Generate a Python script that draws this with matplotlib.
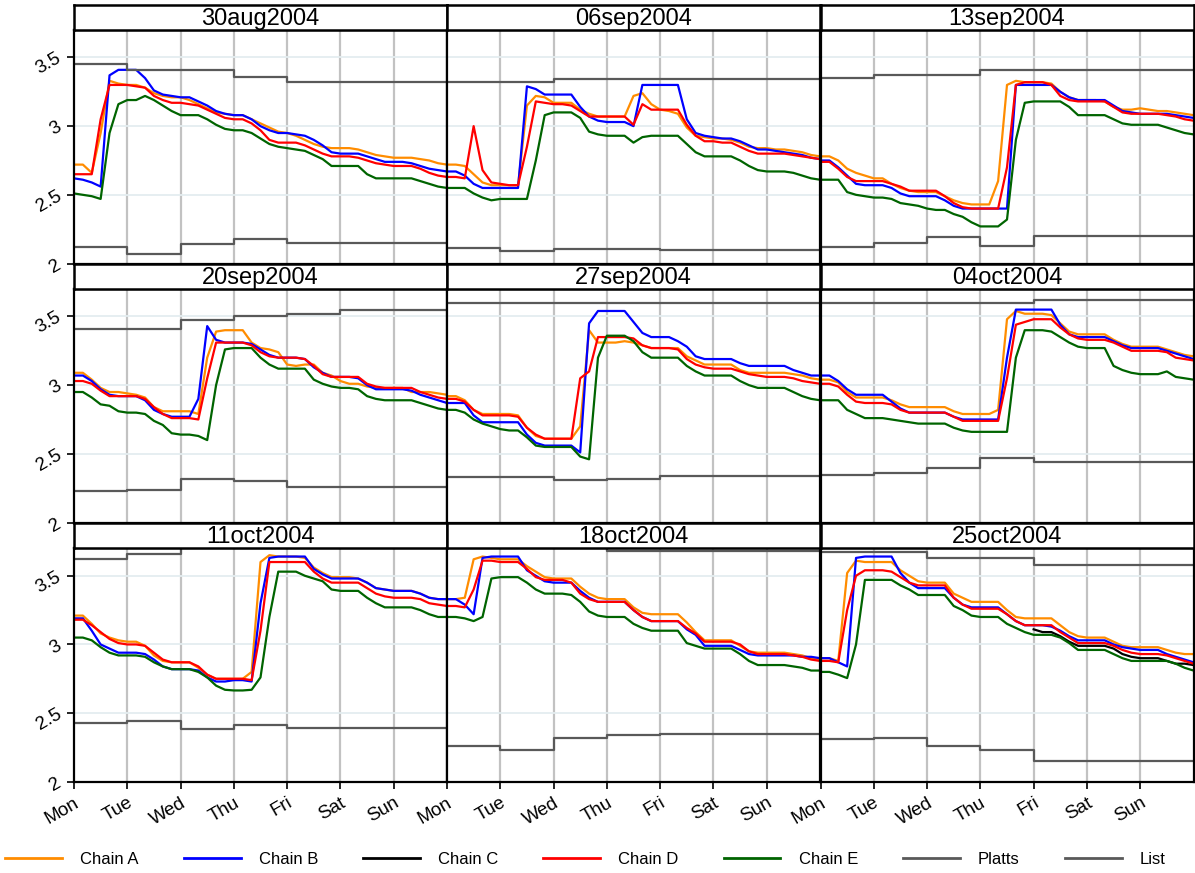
import matplotlib
matplotlib.use("Agg")
import matplotlib.pyplot as plt
from matplotlib.lines import Line2D

plt.rcParams['font.family'] = ['Liberation Sans', 'DejaVu Sans']

# weeks (one panel each), sampled every 4 hours from Monday 00:00
WEEKS = ['30aug2004', '06sep2004', '13sep2004',
         '20sep2004', '27sep2004', '04oct2004',
         '11oct2004', '18oct2004', '25oct2004']
DAYS = ['Mon', 'Tue', 'Wed', 'Thu', 'Fri', 'Sat', 'Sun']
HOURS = list(range(0, 169, 4))

CHAIN_A = [
    [2.72, 2.72, 2.66, 2.95, 3.33, 3.31, 3.30, 3.30, 3.28, 3.24, 3.22, 3.21, 3.21, 3.19, 3.16, 3.13, 3.10, 3.09,
     3.08, 3.08, 3.05, 3.02, 2.99, 2.96, 2.95, 2.93, 2.90, 2.87, 2.85, 2.84, 2.84, 2.84, 2.83, 2.81, 2.79, 2.78,
     2.77, 2.77, 2.77, 2.76, 2.75, 2.73, 2.72],
    [2.72, 2.72, 2.71, 2.65, 2.59, 2.57, 2.57, 2.57, 2.57, 3.15, 3.22, 3.21, 3.17, 3.17, 3.17, 3.12, 3.09, 3.07,
     3.07, 3.07, 3.07, 3.22, 3.24, 3.16, 3.12, 3.11, 3.09, 2.99, 2.93, 2.92, 2.91, 2.91, 2.90, 2.88, 2.85, 2.84,
     2.84, 2.83, 2.83, 2.82, 2.81, 2.79, 2.78],
    [2.78, 2.78, 2.75, 2.69, 2.66, 2.64, 2.62, 2.62, 2.58, 2.55, 2.53, 2.52, 2.52, 2.52, 2.49, 2.46, 2.44, 2.43,
     2.43, 2.43, 2.60, 3.30, 3.33, 3.32, 3.32, 3.32, 3.31, 3.25, 3.21, 3.19, 3.19, 3.19, 3.18, 3.14, 3.12, 3.12,
     3.13, 3.12, 3.11, 3.11, 3.10, 3.09, 3.08],
    [3.09, 3.09, 3.04, 2.98, 2.95, 2.95, 2.94, 2.93, 2.91, 2.84, 2.81, 2.81, 2.81, 2.81, 2.79, 3.20, 3.39, 3.40,
     3.40, 3.40, 3.31, 3.27, 3.26, 3.24, 3.15, 3.14, 3.15, 3.15, 3.09, 3.07, 3.03, 3.01, 3.01, 2.99, 2.98, 2.98,
     2.98, 2.98, 2.95, 2.95, 2.95, 2.94, 2.93],
    [2.92, 2.92, 2.89, 2.82, 2.79, 2.79, 2.79, 2.79, 2.78, 2.69, 2.63, 2.61, 2.61, 2.61, 2.61, 2.70, 3.40, 3.31,
     3.31, 3.31, 3.32, 3.31, 3.29, 3.27, 3.27, 3.27, 3.27, 3.21, 3.18, 3.15, 3.15, 3.15, 3.15, 3.11, 3.09, 3.09,
     3.09, 3.09, 3.09, 3.08, 3.07, 3.05, 3.04],
    [3.04, 3.04, 3.02, 2.95, 2.91, 2.91, 2.91, 2.91, 2.89, 2.86, 2.84, 2.84, 2.84, 2.84, 2.84, 2.81, 2.79, 2.79,
     2.79, 2.79, 2.82, 3.48, 3.54, 3.52, 3.52, 3.52, 3.51, 3.45, 3.39, 3.37, 3.37, 3.37, 3.37, 3.33, 3.30, 3.28,
     3.28, 3.28, 3.28, 3.26, 3.24, 3.22, 3.21],
    [3.21, 3.21, 3.15, 3.08, 3.05, 3.03, 3.02, 3.02, 2.99, 2.92, 2.88, 2.87, 2.87, 2.87, 2.83, 2.78, 2.75, 2.75,
     2.75, 2.75, 2.80, 3.60, 3.65, 3.64, 3.64, 3.64, 3.63, 3.56, 3.52, 3.49, 3.49, 3.49, 3.48, 3.45, 3.41, 3.40,
     3.39, 3.39, 3.39, 3.37, 3.34, 3.33, 3.33],
    [3.33, 3.33, 3.34, 3.62, 3.64, 3.63, 3.62, 3.62, 3.62, 3.57, 3.53, 3.49, 3.48, 3.48, 3.48, 3.42, 3.37, 3.34,
     3.33, 3.33, 3.33, 3.27, 3.23, 3.22, 3.22, 3.22, 3.22, 3.16, 3.09, 3.03, 3.03, 3.03, 3.03, 2.99, 2.95, 2.94,
     2.94, 2.94, 2.94, 2.93, 2.92, 2.90, 2.89],
    [2.90, 2.90, 2.88, 3.52, 3.61, 3.60, 3.60, 3.60, 3.60, 3.54, 3.50, 3.46, 3.45, 3.45, 3.45, 3.37, 3.34, 3.31,
     3.31, 3.31, 3.31, 3.25, 3.20, 3.19, 3.19, 3.19, 3.19, 3.14, 3.09, 3.06, 3.05, 3.05, 3.05, 3.02, 2.99, 2.98,
     2.98, 2.98, 2.98, 2.96, 2.94, 2.93, 2.93],
]

CHAIN_B = [
    [2.62, 2.61, 2.59, 2.56, 3.37, 3.41, 3.41, 3.41, 3.35, 3.26, 3.23, 3.22, 3.21, 3.21, 3.18, 3.15, 3.11, 3.09,
     3.08, 3.08, 3.05, 3.00, 2.97, 2.95, 2.95, 2.94, 2.93, 2.90, 2.86, 2.81, 2.80, 2.80, 2.80, 2.78, 2.76, 2.74,
     2.74, 2.74, 2.73, 2.71, 2.69, 2.68, 2.67],
    [2.67, 2.67, 2.64, 2.58, 2.55, 2.55, 2.55, 2.55, 2.55, 3.29, 3.27, 3.23, 3.23, 3.23, 3.23, 3.14, 3.07, 3.04,
     3.03, 3.03, 3.03, 3.00, 3.30, 3.30, 3.30, 3.30, 3.30, 3.05, 2.95, 2.93, 2.92, 2.91, 2.91, 2.89, 2.86, 2.83,
     2.83, 2.82, 2.81, 2.80, 2.79, 2.77, 2.76],
    [2.75, 2.75, 2.70, 2.64, 2.58, 2.57, 2.57, 2.57, 2.55, 2.51, 2.49, 2.49, 2.49, 2.49, 2.46, 2.42, 2.40, 2.40,
     2.40, 2.40, 2.40, 2.40, 3.30, 3.30, 3.30, 3.30, 3.30, 3.25, 3.21, 3.19, 3.19, 3.19, 3.19, 3.15, 3.11, 3.10,
     3.09, 3.09, 3.09, 3.09, 3.08, 3.07, 3.06],
    [3.07, 3.07, 3.03, 2.97, 2.93, 2.92, 2.92, 2.92, 2.89, 2.82, 2.79, 2.77, 2.77, 2.77, 2.90, 3.43, 3.33, 3.31,
     3.31, 3.31, 3.30, 3.26, 3.22, 3.20, 3.20, 3.20, 3.19, 3.13, 3.09, 3.06, 3.06, 3.06, 3.05, 3.00, 2.97, 2.97,
     2.97, 2.97, 2.96, 2.93, 2.91, 2.89, 2.87],
    [2.87, 2.87, 2.87, 2.78, 2.73, 2.73, 2.73, 2.73, 2.73, 2.64, 2.58, 2.56, 2.56, 2.56, 2.56, 2.51, 3.45, 3.54,
     3.54, 3.54, 3.54, 3.46, 3.38, 3.35, 3.35, 3.35, 3.32, 3.28, 3.21, 3.19, 3.19, 3.19, 3.19, 3.16, 3.14, 3.14,
     3.14, 3.14, 3.14, 3.11, 3.09, 3.07, 3.07],
    [3.07, 3.07, 3.03, 2.97, 2.93, 2.93, 2.93, 2.93, 2.88, 2.83, 2.80, 2.80, 2.80, 2.80, 2.80, 2.77, 2.75, 2.75,
     2.75, 2.75, 2.75, 3.20, 3.55, 3.55, 3.55, 3.55, 3.55, 3.44, 3.37, 3.35, 3.35, 3.35, 3.35, 3.32, 3.29, 3.27,
     3.27, 3.27, 3.27, 3.25, 3.23, 3.21, 3.19],
    [3.19, 3.19, 3.10, 3.00, 2.97, 2.94, 2.94, 2.94, 2.93, 2.89, 2.84, 2.82, 2.82, 2.82, 2.81, 2.76, 2.73, 2.73,
     2.74, 2.74, 2.73, 3.30, 3.63, 3.64, 3.64, 3.64, 3.64, 3.55, 3.51, 3.48, 3.48, 3.48, 3.48, 3.45, 3.41, 3.40,
     3.39, 3.39, 3.39, 3.37, 3.34, 3.33, 3.33],
    [3.33, 3.33, 3.29, 3.22, 3.63, 3.64, 3.64, 3.64, 3.64, 3.54, 3.50, 3.46, 3.45, 3.45, 3.45, 3.39, 3.34, 3.31,
     3.31, 3.31, 3.31, 3.25, 3.20, 3.17, 3.17, 3.17, 3.17, 3.11, 3.07, 2.99, 2.99, 2.99, 2.99, 2.96, 2.93, 2.92,
     2.92, 2.92, 2.92, 2.92, 2.91, 2.91, 2.90],
    [2.90, 2.90, 2.87, 2.84, 3.63, 3.64, 3.64, 3.64, 3.64, 3.52, 3.45, 3.41, 3.41, 3.41, 3.41, 3.34, 3.29, 3.27,
     3.27, 3.27, 3.27, 3.22, 3.17, 3.14, 3.14, 3.14, 3.13, 3.10, 3.06, 3.03, 3.03, 3.03, 3.03, 3.00, 2.98, 2.97,
     2.96, 2.96, 2.96, 2.93, 2.91, 2.89, 2.87],
]

# Chain C only reports in the last week, from Friday on
CHAIN_C_WEEK = 8
CHAIN_C_FIRST = 24
CHAIN_C = [3.11, 3.09, 3.09, 3.06, 3.02, 2.99, 2.99, 2.99, 2.99, 2.97, 2.93, 2.91,
           2.90, 2.90, 2.90, 2.88, 2.86, 2.86, 2.85]

CHAIN_D = [
    [2.65, 2.65, 2.65, 3.05, 3.30, 3.30, 3.30, 3.29, 3.28, 3.22, 3.19, 3.17, 3.17, 3.16, 3.15, 3.12, 3.09, 3.06,
     3.05, 3.05, 3.02, 2.97, 2.90, 2.88, 2.88, 2.88, 2.86, 2.83, 2.80, 2.78, 2.78, 2.78, 2.77, 2.75, 2.73, 2.72,
     2.71, 2.71, 2.71, 2.69, 2.66, 2.64, 2.63],
    [2.63, 2.63, 2.62, 3.00, 2.68, 2.59, 2.58, 2.57, 2.57, 2.85, 3.18, 3.17, 3.16, 3.16, 3.15, 3.11, 3.07, 3.07,
     3.07, 3.07, 3.07, 3.01, 3.16, 3.12, 3.12, 3.12, 3.12, 3.01, 2.93, 2.89, 2.89, 2.88, 2.88, 2.85, 2.82, 2.80,
     2.80, 2.80, 2.80, 2.79, 2.78, 2.77, 2.76],
    [2.74, 2.74, 2.69, 2.63, 2.60, 2.60, 2.60, 2.60, 2.58, 2.56, 2.53, 2.53, 2.53, 2.53, 2.49, 2.44, 2.41, 2.40,
     2.40, 2.40, 2.40, 2.70, 3.30, 3.32, 3.32, 3.32, 3.30, 3.22, 3.19, 3.18, 3.18, 3.18, 3.18, 3.14, 3.10, 3.09,
     3.09, 3.09, 3.09, 3.08, 3.07, 3.05, 3.04],
    [3.03, 3.03, 3.01, 2.96, 2.92, 2.92, 2.92, 2.92, 2.90, 2.84, 2.79, 2.76, 2.76, 2.76, 2.75, 3.05, 3.31, 3.31,
     3.31, 3.31, 3.29, 3.24, 3.21, 3.20, 3.20, 3.20, 3.19, 3.14, 3.08, 3.06, 3.06, 3.06, 3.06, 3.01, 2.99, 2.98,
     2.98, 2.98, 2.98, 2.95, 2.93, 2.91, 2.90],
    [2.90, 2.90, 2.88, 2.82, 2.78, 2.78, 2.78, 2.78, 2.77, 2.69, 2.64, 2.61, 2.61, 2.61, 2.61, 3.05, 3.10, 3.35,
     3.35, 3.35, 3.35, 3.34, 3.29, 3.27, 3.27, 3.27, 3.26, 3.19, 3.15, 3.13, 3.12, 3.12, 3.12, 3.10, 3.08, 3.07,
     3.06, 3.06, 3.06, 3.05, 3.03, 3.02, 3.01],
    [3.01, 3.01, 2.99, 2.93, 2.88, 2.87, 2.87, 2.87, 2.86, 2.82, 2.80, 2.80, 2.80, 2.80, 2.80, 2.77, 2.74, 2.74,
     2.74, 2.74, 2.74, 3.05, 3.44, 3.46, 3.48, 3.48, 3.48, 3.42, 3.37, 3.34, 3.33, 3.33, 3.33, 3.31, 3.28, 3.25,
     3.25, 3.25, 3.25, 3.24, 3.20, 3.19, 3.18],
    [3.18, 3.18, 3.14, 3.09, 3.04, 3.01, 3.00, 3.00, 2.99, 2.94, 2.89, 2.87, 2.87, 2.87, 2.84, 2.78, 2.75, 2.75,
     2.75, 2.75, 2.74, 3.10, 3.60, 3.60, 3.60, 3.60, 3.60, 3.53, 3.48, 3.45, 3.45, 3.45, 3.45, 3.41, 3.37, 3.35,
     3.34, 3.34, 3.34, 3.33, 3.30, 3.29, 3.28],
    [3.28, 3.28, 3.27, 3.40, 3.61, 3.61, 3.60, 3.60, 3.60, 3.55, 3.49, 3.47, 3.47, 3.47, 3.45, 3.37, 3.33, 3.31,
     3.31, 3.31, 3.31, 3.25, 3.20, 3.17, 3.17, 3.17, 3.17, 3.12, 3.08, 3.02, 3.02, 3.02, 3.02, 3.00, 2.95, 2.93,
     2.93, 2.93, 2.93, 2.92, 2.91, 2.89, 2.88],
    [2.88, 2.88, 2.87, 3.25, 3.50, 3.54, 3.54, 3.54, 3.53, 3.49, 3.45, 3.43, 3.43, 3.43, 3.43, 3.34, 3.29, 3.26,
     3.26, 3.26, 3.26, 3.22, 3.17, 3.14, 3.14, 3.14, 3.14, 3.09, 3.05, 3.01, 3.01, 3.01, 3.01, 2.99, 2.96, 2.94,
     2.93, 2.93, 2.93, 2.92, 2.90, 2.88, 2.86],
]

CHAIN_E = [
    [2.51, 2.50, 2.49, 2.47, 2.95, 3.16, 3.19, 3.19, 3.22, 3.19, 3.15, 3.11, 3.08, 3.08, 3.08, 3.05, 3.01, 2.98,
     2.97, 2.97, 2.95, 2.91, 2.87, 2.85, 2.84, 2.83, 2.82, 2.79, 2.76, 2.71, 2.71, 2.71, 2.71, 2.65, 2.62, 2.62,
     2.62, 2.62, 2.62, 2.60, 2.58, 2.56, 2.55],
    [2.55, 2.55, 2.55, 2.51, 2.48, 2.46, 2.47, 2.47, 2.47, 2.47, 2.75, 3.08, 3.10, 3.10, 3.10, 3.06, 2.96, 2.94,
     2.93, 2.93, 2.93, 2.88, 2.92, 2.93, 2.93, 2.93, 2.93, 2.87, 2.81, 2.78, 2.78, 2.78, 2.78, 2.75, 2.71, 2.68,
     2.67, 2.67, 2.67, 2.66, 2.64, 2.62, 2.61],
    [2.61, 2.61, 2.61, 2.52, 2.50, 2.49, 2.48, 2.48, 2.47, 2.44, 2.43, 2.42, 2.40, 2.39, 2.39, 2.36, 2.34, 2.30,
     2.27, 2.27, 2.27, 2.32, 2.90, 3.17, 3.18, 3.18, 3.18, 3.18, 3.14, 3.08, 3.08, 3.08, 3.08, 3.05, 3.02, 3.01,
     3.01, 3.01, 3.01, 2.99, 2.97, 2.95, 2.94],
    [2.95, 2.95, 2.91, 2.86, 2.85, 2.81, 2.80, 2.80, 2.79, 2.74, 2.71, 2.65, 2.64, 2.64, 2.63, 2.60, 3.00, 3.26,
     3.27, 3.27, 3.27, 3.20, 3.15, 3.12, 3.12, 3.12, 3.12, 3.04, 3.01, 2.99, 2.98, 2.98, 2.97, 2.92, 2.90, 2.89,
     2.89, 2.89, 2.89, 2.87, 2.85, 2.83, 2.82],
    [2.82, 2.82, 2.80, 2.75, 2.72, 2.70, 2.68, 2.67, 2.67, 2.62, 2.56, 2.55, 2.55, 2.55, 2.55, 2.48, 2.46, 3.20,
     3.36, 3.36, 3.36, 3.32, 3.24, 3.20, 3.20, 3.20, 3.20, 3.14, 3.10, 3.07, 3.07, 3.07, 3.07, 3.03, 3.00, 2.98,
     2.98, 2.98, 2.98, 2.95, 2.92, 2.90, 2.89],
    [2.89, 2.89, 2.89, 2.82, 2.79, 2.76, 2.76, 2.76, 2.75, 2.74, 2.73, 2.72, 2.72, 2.72, 2.72, 2.69, 2.67, 2.66,
     2.66, 2.66, 2.66, 2.66, 3.20, 3.40, 3.40, 3.40, 3.39, 3.35, 3.31, 3.28, 3.27, 3.27, 3.27, 3.14, 3.11, 3.09,
     3.08, 3.08, 3.08, 3.10, 3.06, 3.05, 3.04],
    [3.05, 3.05, 3.03, 2.98, 2.94, 2.92, 2.92, 2.92, 2.91, 2.87, 2.84, 2.82, 2.82, 2.82, 2.80, 2.76, 2.70, 2.67,
     2.665, 2.665, 2.67, 2.76, 3.20, 3.53, 3.53, 3.53, 3.50, 3.48, 3.46, 3.40, 3.39, 3.39, 3.39, 3.34, 3.30, 3.27,
     3.27, 3.27, 3.27, 3.25, 3.22, 3.20, 3.20],
    [3.20, 3.20, 3.19, 3.17, 3.20, 3.48, 3.49, 3.49, 3.49, 3.45, 3.40, 3.37, 3.37, 3.37, 3.36, 3.31, 3.24, 3.21,
     3.20, 3.20, 3.20, 3.15, 3.12, 3.10, 3.10, 3.10, 3.10, 3.01, 2.99, 2.97, 2.97, 2.97, 2.97, 2.93, 2.88, 2.85,
     2.85, 2.85, 2.85, 2.84, 2.83, 2.81, 2.81],
    [2.80, 2.80, 2.78, 2.755, 3.00, 3.47, 3.47, 3.47, 3.47, 3.43, 3.40, 3.36, 3.36, 3.36, 3.36, 3.28, 3.25, 3.21,
     3.20, 3.20, 3.20, 3.15, 3.12, 3.09, 3.07, 3.07, 3.07, 3.05, 3.01, 2.96, 2.96, 2.96, 2.96, 2.93, 2.90, 2.88,
     2.88, 2.88, 2.88, 2.88, 2.86, 2.83, 2.81],
]

# daily reference prices (change at midnight)
PLATTS = [
    [2.12, 2.07, 2.14, 2.18, 2.15, 2.15, 2.15],
    [2.11, 2.09, 2.105, 2.105, 2.095, 2.095, 2.095],
    [2.12, 2.15, 2.19, 2.13, 2.20, 2.20, 2.20],
    [2.23, 2.24, 2.32, 2.30, 2.255, 2.255, 2.255],
    [2.33, 2.33, 2.31, 2.32, 2.335, 2.335, 2.335],
    [2.345, 2.36, 2.40, 2.47, 2.44, 2.44, 2.44],
    [2.43, 2.44, 2.385, 2.415, 2.39, 2.39, 2.39],
    [2.26, 2.23, 2.32, 2.34, 2.35, 2.35, 2.35],
    [2.31, 2.32, 2.26, 2.23, 2.15, 2.15, 2.15],
]
LIST = [
    [3.45, 3.41, 3.41, 3.36, 3.32, 3.32, 3.32],
    [3.32, 3.32, 3.345, 3.345, 3.345, 3.345, 3.345],
    [3.35, 3.37, 3.37, 3.41, 3.41, 3.41, 3.41],
    [3.41, 3.41, 3.475, 3.50, 3.52, 3.55, 3.55],
    [3.60, 3.60, 3.60, 3.60, 3.60, 3.60, 3.60],
    [3.60, 3.60, 3.60, 3.60, 3.62, 3.62, 3.62],
    [3.62, 3.66, 3.75, 3.75, 3.75, 3.75, 3.75],
    [3.74, 3.74, 3.74, 3.68, 3.68, 3.68, 3.68],
    [3.67, 3.67, 3.63, 3.63, 3.575, 3.575, 3.575],
]

COLORS = {'Chain A': '#ff8c00', 'Chain B': '#0000ff', 'Chain C': '#000000',
          'Chain D': '#ff0000', 'Chain E': '#006400', 'Platts': '#595959', 'List': '#595959'}

W, H = 1195, 873
LEFTS = [74, 447, 820.5]
TOPS = [30, 289, 548.3]
PW, PH, SH = 373, 233.5, 25

fig = plt.figure(figsize=(W / 100, H / 100), dpi=100)

t = [h / 24 for h in HOURS]
step_x = list(range(8))

for k, week in enumerate(WEEKS):
    r, c = divmod(k, 3)
    l, top = LEFTS[c], TOPS[r]
    ax = fig.add_axes([l / W, 1 - (top + PH) / H, PW / W, PH / H])

    for d in range(1, 7):
        ax.axvline(d, color='#c2c2c2', lw=1.6, zorder=0)
    for y in (2.5, 3.0, 3.5):
        ax.axhline(y, color='#e4edf0', lw=1.3, zorder=0)

    ax.plot(t, CHAIN_A[k], color=COLORS['Chain A'], lw=1.6)
    ax.plot(t, CHAIN_B[k], color=COLORS['Chain B'], lw=1.6)
    if k == CHAIN_C_WEEK:
        ax.plot(t[CHAIN_C_FIRST:], CHAIN_C, color=COLORS['Chain C'], lw=1.6)
    ax.plot(t, CHAIN_D[k], color=COLORS['Chain D'], lw=1.6)
    ax.plot(t, CHAIN_E[k], color=COLORS['Chain E'], lw=1.6)
    ax.step(step_x, PLATTS[k] + [PLATTS[k][-1]], where='post', color=COLORS['Platts'], lw=1.6)
    ax.step(step_x, LIST[k] + [LIST[k][-1]], where='post', color=COLORS['List'], lw=1.6)

    ax.set_xlim(0, 7)
    ax.set_ylim(2, 3.70)
    for s in ax.spines.values():
        s.set_color('black')
        s.set_linewidth(1.6)

    ax.set_xticks(range(7))
    ax.set_yticks([2, 2.5, 3, 3.5])
    if r == 2:
        ax.set_xticklabels(DAYS, fontsize=13.5, rotation=30, ha='right', va='top',
                           rotation_mode='anchor')
        ax.tick_params(axis='x', length=5, width=1.2, pad=4)
    else:
        ax.tick_params(axis='x', length=0, labelbottom=False)
    if c == 0:
        ax.set_yticklabels(['2', '2.5', '3', '3.5'], fontsize=13.5, rotation=30, ha='right',
                           va='center', rotation_mode='anchor')
        ax.tick_params(axis='y', length=5, width=1.2, pad=5)
    else:
        ax.tick_params(axis='y', length=0, labelleft=False)

    strip = fig.add_axes([l / W, 1 - top / H, PW / W, SH / H])
    strip.set_xticks([])
    strip.set_yticks([])
    for s in strip.spines.values():
        s.set_color('black')
        s.set_linewidth(1.8)
    strip.text(0.5, 0.45, week, ha='center', va='center', fontsize=17, transform=strip.transAxes)

names = ['Chain A', 'Chain B', 'Chain C', 'Chain D', 'Chain E', 'Platts', 'List']
handles = [Line2D([], [], color=COLORS[n], lw=2) for n in names]
fig.legend(handles, names, loc='center', bbox_to_anchor=(0.49, 1 - 859 / H), ncol=7,
           frameon=False, fontsize=12, handlelength=3.4, handletextpad=1.1, columnspacing=2.7)

fig.savefig('out.png', dpi=100, facecolor='white')
